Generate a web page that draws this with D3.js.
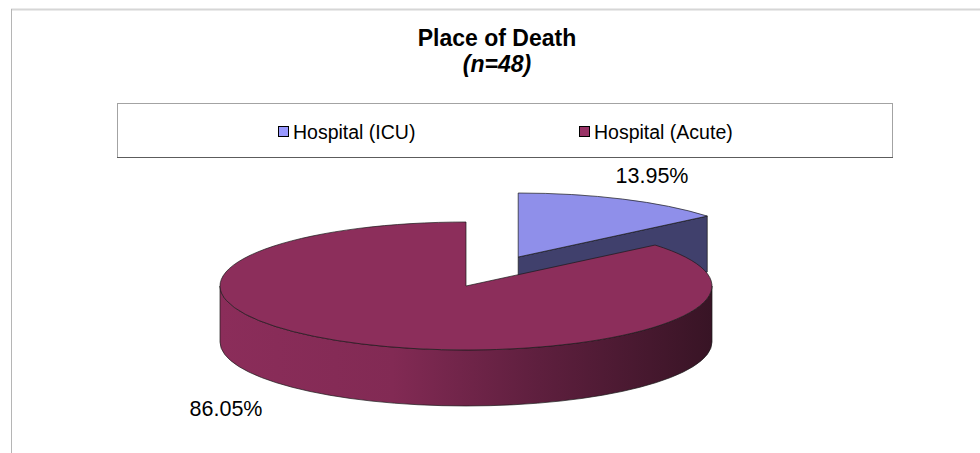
<!DOCTYPE html>
<html lang="en">
<head>
  <meta charset="utf-8" />
  <title>Place of Death</title>
  <style>
    body {
      margin: 0;
      background: #fff;
      font-family: "Liberation Sans", Arial, sans-serif;
    }
    .edge {
      stroke: #1a1a1a;
      stroke-width: 0.7px;
      stroke-linejoin: round;
    }
  </style>
</head>
<body>
<script src="https://cdn.jsdelivr.net/npm/d3@7"></script>
<script>
  const categories = ["Hospital (ICU)", "Hospital (Acute)"];
  const values = [13.95, 86.05];
  const percentLabels = ["13.95%", "86.05%"];
  const titleText = "Place of Death";
  const subtitleText = "(n=48)";

  const width = 980;
  const height = 453;

  const topColors = ["#8f8fea", "#8c2e5b"];
  const sideColors = ["#40406c", "#6a2345"];
  const legendColors = ["#9999ff", "#993366"];

  // pie geometry (tilted ellipse)
  const cx = 466, cy = 286, rx = 246, ry = 64, depth = 56;
  const explode = [0.5, 0];
  const labelPos = [[652, 183], [226, 416]];

  const svg = d3.select("body")
    .append("svg")
    .attr("width", width)
    .attr("height", height);

  // chart area frame
  svg.append("line")
    .attr("x1", 11).attr("x2", width).attr("y1", 9.5).attr("y2", 9.5)
    .attr("stroke", "#d6d6d6").attr("stroke-width", 2);
  svg.append("line")
    .attr("x1", 11.5).attr("x2", 11.5).attr("y1", 9).attr("y2", height)
    .attr("stroke", "#b5b5b5").attr("stroke-width", 1);

  // title
  svg.append("text")
    .attr("x", 497).attr("y", 46)
    .attr("text-anchor", "middle")
    .style("font-size", "23px").style("font-weight", "bold")
    .text(titleText);
  svg.append("text")
    .attr("x", 497).attr("y", 72)
    .attr("text-anchor", "middle")
    .style("font-size", "23px").style("font-weight", "bold").style("font-style", "italic")
    .text(subtitleText);

  // legend
  const legend = svg.append("g");
  legend.append("rect")
    .attr("x", 117.5).attr("y", 103.5).attr("width", 775).attr("height", 54)
    .attr("fill", "#fff").attr("stroke", "#a3a3a3");
  legend.append("line")
    .attr("x1", 117).attr("x2", 893).attr("y1", 157.5).attr("y2", 157.5)
    .attr("stroke", "#5c5c5c");

  const legendX = d3.scalePoint().domain(categories).range([278, 579]);
  const item = legend.selectAll("g.item")
    .data(categories)
    .join("g")
    .attr("class", "item")
    .attr("transform", d => `translate(${legendX(d)},126)`);
  item.append("rect")
    .attr("x", 0.5).attr("y", 0.5).attr("width", 10).attr("height", 10)
    .attr("fill", (d, i) => legendColors[i])
    .attr("stroke", "#000").attr("stroke-width", 1);
  item.append("text")
    .attr("x", 15).attr("y", 12.5)
    .style("font-size", "19.5px")
    .text(d => d);

  // 3d pie
  const pie = d3.pie().sort(null).startAngle(0).endAngle(2 * Math.PI);
  const arcs = pie(values);

  const defs = svg.append("defs");
  const grad = defs.append("linearGradient")
    .attr("id", "wallGrad")
    .attr("gradientUnits", "userSpaceOnUse")
    .attr("x1", cx - rx).attr("x2", cx + rx).attr("y1", 0).attr("y2", 0);
  grad.append("stop").attr("offset", "0%").attr("stop-color", "#8b2d5a");
  grad.append("stop").attr("offset", "35%").attr("stop-color", "#822a54");
  grad.append("stop").attr("offset", "65%").attr("stop-color", "#5e1f3e");
  grad.append("stop").attr("offset", "100%").attr("stop-color", "#381425");

  function pt(ox, oy, a, r, z) {
    return [ox + rx * r * Math.sin(a), oy - ry * r * Math.cos(a) + z];
  }

  const slices = arcs.map((d, i) => {
    const mid = (d.startAngle + d.endAngle) / 2;
    const ox = cx + rx * explode[i] * Math.sin(mid);
    const oy = cy - ry * explode[i] * Math.cos(mid);
    return {d, i, mid, ox, oy};
  }).sort((a, b) => Math.cos(b.mid) - Math.cos(a.mid));

  const pieG = svg.append("g");

  slices.forEach(s => {
    const {d, i, ox, oy} = s;
    const a0 = d.startAngle, a1 = d.endAngle;
    const g = pieG.append("g");

    // cut faces
    const faces = [];
    if (a1 % (2 * Math.PI) > 0 && a1 % (2 * Math.PI) < Math.PI) faces.push(a1);
    if (a0 > Math.PI && a0 < 2 * Math.PI) faces.push(a0);
    faces.forEach(a => {
      const c0 = [ox, oy], c1 = [ox, oy + depth];
      const p0 = pt(ox, oy, a, 1, 0), p1 = pt(ox, oy, a, 1, depth);
      g.append("path")
        .attr("class", "edge")
        .attr("fill", sideColors[i])
        .attr("d", `M${c0}L${p0}L${p1}L${c1}Z`);
    });

    // outer wall (front half only)
    const w0 = Math.max(a0, Math.PI / 2), w1 = Math.min(a1, 3 * Math.PI / 2);
    if (w1 > w0) {
      const t0 = pt(ox, oy, w0, 1, 0), t1 = pt(ox, oy, w1, 1, 0);
      const b0 = pt(ox, oy, w0, 1, depth), b1 = pt(ox, oy, w1, 1, depth);
      const large = (w1 - w0) > Math.PI ? 1 : 0;
      g.append("path")
        .attr("class", "edge")
        .attr("fill", i === 1 ? "url(#wallGrad)" : sideColors[i])
        .attr("d", `M${t0}A${rx},${ry} 0 ${large} 1 ${t1}L${b1}A${rx},${ry} 0 ${large} 0 ${b0}Z`);
    }

    // top face
    const s0 = pt(ox, oy, a0, 1, 0), s1 = pt(ox, oy, a1, 1, 0);
    const large = (a1 - a0) > Math.PI ? 1 : 0;
    g.append("path")
      .attr("class", "edge")
      .attr("fill", topColors[i])
      .attr("d", `M${ox},${oy}L${s0}A${rx},${ry} 0 ${large} 1 ${s1}Z`);
  });

  // data labels
  svg.selectAll("text.pct")
    .data(percentLabels)
    .join("text")
    .attr("class", "pct")
    .attr("x", (d, i) => labelPos[i][0])
    .attr("y", (d, i) => labelPos[i][1])
    .attr("text-anchor", "middle")
    .style("font-size", "21.5px")
    .text(d => d);
</script>
</body>
</html>
